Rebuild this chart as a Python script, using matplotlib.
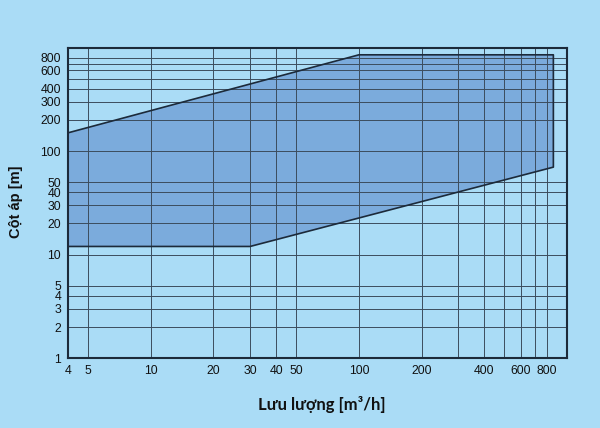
import matplotlib.pyplot as plt
from matplotlib.ticker import FixedLocator, NullFormatter

# operating range envelope (flow m3/h, head m)
flow = [4, 30, 860, 860, 100, 4]
head = [12, 12, 70, 850, 850, 150]

x_ticks = [4, 5, 10, 20, 30, 40, 50, 100, 200, 400, 600, 800]
x_minor = [300, 500, 700]
y_ticks = [1, 2, 3, 4, 5, 10, 20, 30, 40, 50, 100, 200, 300, 400, 600, 800]
y_minor = [500, 700]

bg = "#aadcf6"
fill_col = "#7babdc"
line_col = "#1c2a3a"
grid_col = "#3c4d5e"

fig = plt.figure(figsize=(6, 4.28), dpi=100, facecolor=bg)
ax = fig.add_axes([0.1133, 0.163, 0.8317, 0.726])
ax.set_facecolor(bg)

ax.set_xscale("log")
ax.set_yscale("log")
ax.set_xlim(4, 1000)
ax.set_ylim(1, 1000)

ax.fill(flow, head, color=fill_col, zorder=1, linewidth=0)
ax.plot(flow + flow[:1], head + head[:1], color=line_col, linewidth=1.2, zorder=3)

ax.xaxis.set_major_locator(FixedLocator(x_ticks))
ax.xaxis.set_minor_locator(FixedLocator(x_minor))
ax.yaxis.set_major_locator(FixedLocator(y_ticks))
ax.yaxis.set_minor_locator(FixedLocator(y_minor))
ax.set_xticklabels([str(v) for v in x_ticks])
ax.set_yticklabels([str(v) for v in y_ticks])
ax.xaxis.set_minor_formatter(NullFormatter())
ax.yaxis.set_minor_formatter(NullFormatter())

ax.set_axisbelow(False)
ax.grid(True, which="both", color=grid_col, linewidth=0.7, zorder=2)
ax.tick_params(which="both", length=0, pad=5, labelsize=8.8,
               labelcolor="#111111")
for lab in ax.get_xticklabels() + ax.get_yticklabels():
    lab.set_family(["Liberation Sans", "DejaVu Sans"])

for sp in ax.spines.values():
    sp.set_color(line_col)
    sp.set_linewidth(1.5)
    sp.set_zorder(4)

fig.text(0.027, 0.528, "Cột áp [m]", rotation=90, ha="center", va="center",
         fontsize=10.5, fontweight="bold", family=["Liberation Sans", "DejaVu Sans"],
         color="#111111")
fig.text(0.537, 0.054, "Lưu lượng [m³/h]", ha="center", va="center",
         fontsize=12, fontweight="bold", family=["Lato", "DejaVu Sans"],
         color="#111111")

fig.savefig("out.png", dpi=100, facecolor=bg)
